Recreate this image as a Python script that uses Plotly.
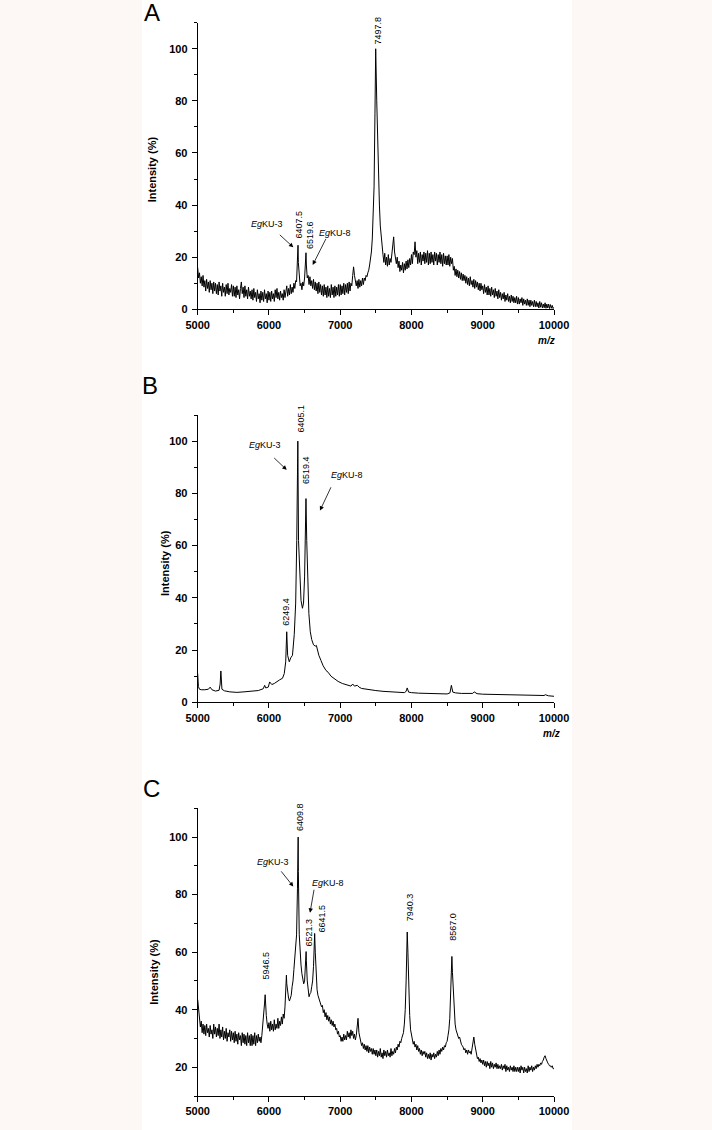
import plotly.graph_objects as go

# ---------------- data ----------------
MZ_STEP = 12.5
grid_mz = [5000 + MZ_STEP * i for i in range(401)]

# Panel A intensities on the 12.5-m/z grid (5000 ... 10000), 20 values per row
a_grid_int = [
    16, 12, 14, 10, 12.5, 9, 13, 8.5, 11, 7, 11.5, 8, 10.5, 6.5, 11, 7.5, 10, 6, 10.5, 7,
    10, 6, 9.5, 5.5, 10.5, 7, 9, 5, 10, 6.5, 8.5, 5, 9.5, 6, 10, 5.5, 8, 6.5, 9.5, 5,
    9, 5, 8.5, 4.5, 9, 5.5, 7.5, 4, 8, 10.5, 6, 8.5, 4.5, 9, 5, 7.5, 4, 8.5, 5, 7,
    4, 7.5, 3.5, 8, 4.5, 6.5, 3, 7.5, 4, 6, 2.5, 7, 3.5, 6.5, 3, 7.5, 4, 6, 2.5, 7,
    3.5, 6.5, 3, 7, 4, 6, 3, 7.5, 4.5, 8, 4, 6.5, 3.5, 7, 4.5, 6, 3.5, 7.5, 4.5, 7,
    9, 5, 8, 5.5, 9.5, 6, 8.5, 6.5, 10, 8, 11, 10.5, 17, 18, 11, 9, 10, 7.5, 10.5, 9,
    12, 18, 17, 12, 13, 9.5, 12.5, 9, 11, 8, 11.5, 7.5, 10.5, 7, 10, 6, 10.5, 6.5, 9.5, 5.5,
    9, 5, 9.5, 5.5, 8.5, 4.5, 9, 5, 8, 4.5, 9.5, 5.5, 8.5, 4.5, 9, 5, 8.5, 5.5, 9.5, 5,
    9.5, 5.5, 9, 6, 10, 5.5, 9.5, 6.5, 10, 6, 10.5, 7, 10, 9, 13, 16.3, 13, 11, 9, 11,
    8, 11.5, 8.5, 11, 9, 12, 9.5, 12, 11, 13, 12.5, 14, 15, 17, 19, 22, 27, 36, 47, 75,
    97, 80, 62, 50, 40, 32, 27, 23, 21, 18, 21.5, 17, 20, 16.5, 21, 17, 19.5, 18, 21, 25,
    27.8, 22, 19, 17.5, 20, 16, 18.5, 14.5, 17, 15, 18, 14, 17.5, 15, 18.5, 15.5, 19, 16, 19.5, 17,
    21, 17.5, 22, 21, 25.9, 20, 22.5, 17.5, 21.5, 18, 22, 17, 21, 18.5, 22, 17.5, 21.5, 18, 22.5, 17,
    21.5, 17.5, 22, 18, 21, 17, 22, 18.5, 21.5, 17, 21, 18, 22, 17.5, 21, 16.5, 21.5, 17.5, 20.5, 17,
    20.5, 17, 21, 16.5, 20, 17.5, 19.5, 15, 16.5, 13, 15.5, 12.5, 15, 12, 14.5, 11.5, 14, 11, 13.5, 11,
    13, 10, 12.5, 9.5, 12, 9, 12.5, 9.5, 11, 8.5, 11.5, 8, 11, 8.5, 10.5, 7.5, 10, 7, 10, 7.5,
    9, 6, 9.5, 6.5, 8.5, 5.5, 9, 5.5, 8, 5, 8.5, 5.5, 7.5, 4.5, 8, 5, 7, 4, 7.5, 4.5,
    6.5, 3.5, 6, 4, 6.5, 3, 5.5, 3.5, 6, 3, 5, 2.5, 5.5, 3, 5, 2.5, 4.5, 2.5, 5, 2,
    4.5, 2, 4, 2.5, 4.5, 1.5, 4, 2, 3.5, 1.5, 4, 1.5, 3.5, 1, 3.5, 1.5, 3, 1, 3.5, 1,
    3, 1, 2.5, 0.5, 3, 0.8, 2.5, 0.5, 2, 0.6, 2.5, 0.4, 2, 0.5, 2, 0.3, 1.8, 0.4, 1.5, 0.3,
    0.8,
]
a_peak_mz = [6407.5, 6519.6, 7497.8]
a_peak_int = [24.6, 21.7, 100]

# Panel B (smooth spectrum)
b_mz = [5000, 5010, 5025, 5050, 5100, 5150, 5175, 5200, 5250, 5300, 5315, 5325,
        5340, 5375, 5450, 5550, 5650, 5750, 5850, 5920, 5940, 5955, 5990, 6010,
        6025, 6040, 6075, 6110, 6150, 6190, 6215, 6235, 6249.4, 6262, 6285, 6305,
        6330, 6355, 6375, 6390, 6405.1, 6415, 6430, 6450, 6470, 6485, 6500, 6510,
        6519.4, 6530, 6545, 6560, 6580, 6600, 6625, 6650, 6665, 6680, 6700, 6730,
        6760, 6800, 6830, 6870, 6920, 6970, 7030, 7090, 7150, 7175, 7200, 7240,
        7265, 7300, 7400, 7500, 7600, 7700, 7800, 7900, 7925, 7940, 7960, 8000,
        8100, 8200, 8300, 8400, 8500, 8540, 8560, 8580, 8620, 8700, 8800, 8860,
        8880, 8920, 9000, 9200, 9400, 9600, 9800, 9860, 9880, 9920, 10000]
b_int = [11, 6, 5, 4.8, 4.8, 5, 5.8, 4.8, 4.3, 4.6, 7, 12,
         5, 4.4, 4.0, 3.8, 4.0, 4.2, 4.5, 5.2, 6.5, 5.5, 5.8, 7.8,
         7, 6.8, 7.2, 8, 8.6, 9.2, 11, 15.5, 27, 18, 15.5, 17,
         18, 26, 38, 62, 100, 62, 48, 39, 36, 38, 48, 62,
         78, 62, 45, 34, 27, 24, 22, 21.5, 21.8, 19.5, 18, 16,
         14, 12.2, 11.5, 10, 9, 8, 7.2, 6.6, 6.2, 7, 6.2, 6.5,
         5.8, 5.3, 4.8, 4.5, 4.2, 4.0, 3.8, 3.7, 4.2, 5.5, 3.9, 3.7,
         3.5, 3.4, 3.3, 3.3, 3.2, 3.6, 6.5, 3.9, 3.6, 3.4, 3.3, 3.4,
         4, 3.3, 3.1, 3.0, 2.9, 2.8, 2.6, 2.6, 2.9, 2.5, 2.3]

# Panel C intensities on the 12.5-m/z grid, 20 values per row
c_grid_int = [
    43.5, 40, 37, 34, 36, 32, 35, 31.5, 34.5, 31, 35, 32, 33.5, 30.5, 34.5, 31.5, 33, 30, 35, 31.5,
    34, 30.5, 33.5, 31, 35, 30, 33, 30.5, 34, 29.5, 32.5, 30, 33.5, 29, 32, 30.5, 33, 29, 32.5, 29.5,
    32, 28.5, 32.5, 29, 31.5, 28, 32, 29.5, 31, 27.5, 32, 28.5, 31.5, 28, 31, 27.5, 32, 28.5, 31, 27.5,
    31.5, 27.5, 31, 28, 32, 27.5, 31, 28.5, 31.5, 29, 30.5, 28.5, 31, 34, 38, 42, 41, 38, 35, 33.5,
    35.5, 32.5, 36, 33, 35, 32.5, 36.5, 33, 35, 33.5, 37, 33.5, 36, 34.5, 37.5, 35, 38.5, 37, 41, 47,
    49, 46, 44, 43, 44.5, 45, 48, 50, 54, 58, 60, 66, 82, 88, 66, 58, 55.5, 52.5, 51, 49,
    50, 56, 57, 50, 46, 44.5, 45.5, 46, 48, 50, 55, 62, 60, 52, 47, 45, 44, 43, 42.5, 41,
    41.5, 39, 40, 37.5, 39, 36.5, 38, 36, 37.5, 35, 36.5, 34.5, 36, 34, 35, 33, 33.5, 31.5, 32.5, 30.5,
    31, 29, 30.5, 29, 31.5, 29.5, 31, 29.5, 32.5, 30.5, 32, 30, 33, 31, 32.5, 30, 31.5, 29.5, 31, 34,
    37, 32, 30, 28.5, 27.5, 28.5, 26.5, 28, 26, 27.5, 25.5, 27.5, 25, 27, 25.5, 26.5, 24.5, 26.5, 24.5, 26,
    24, 26, 23.5, 25.5, 24, 26.5, 23.5, 25, 23, 26, 24, 25.5, 23.5, 26, 24, 25, 23.5, 26.5, 24, 25.5,
    24.5, 26.5, 25, 27, 26, 28, 27, 29, 28.5, 30, 31, 32, 35, 40, 50, 63, 60, 47, 38, 33,
    31, 29.5, 28, 29, 27, 28, 26, 27.5, 25.5, 26.5, 24.5, 26, 24, 25.5, 24.5, 25.5, 23.5, 25, 23, 24.5,
    23, 25, 22.5, 24.5, 23.5, 25, 23, 24.5, 23.5, 25.5, 24, 26, 24.5, 26.5, 25.5, 27, 26, 27.5, 27, 28.5,
    29, 31, 33, 37, 44, 53, 53, 45, 39, 35, 33, 32, 31, 30, 30.5, 29, 28, 27.5, 27, 26,
    26.5, 25, 26, 24.5, 26, 25, 25.5, 24.5, 27, 29, 30.5, 28, 26, 24.5, 23, 23.5, 22, 23, 21.5, 22.5,
    21, 22.5, 20.5, 22, 20, 22, 20.5, 21.5, 19.5, 22, 20, 21.5, 19.5, 21, 20, 21.5, 19.5, 21, 19.5, 20.5,
    19.5, 21, 19, 20.5, 19.5, 21, 18.5, 20.5, 19, 20, 18.5, 20.5, 19, 20, 18.5, 20.5, 18.5, 20, 18.5, 20,
    18.5, 20, 18, 20.5, 19, 20, 18, 20, 18.5, 19.5, 18, 20.5, 18.5, 20, 19, 20.5, 18.5, 20, 19, 20.5,
    19.5, 21, 20, 21, 20.5, 21.5, 21, 22, 22.5, 23.5, 24, 23, 22, 21.5, 21, 20.5, 20.5, 20, 20.5, 19.5,
    19.5,
]
c_peak_mz = [5946.5, 6245, 6409.8, 6521.3, 6641.5, 7940.3, 8567.0]
c_peak_int = [45.2, 52, 100, 60.2, 66.5, 67, 58.5]

x_tick_vals = [5000, 6000, 7000, 8000, 9000, 10000]
x_tick_text = ["5000", "6000", "7000", "8000", "9000", "10000"]
y_tick_vals = [0, 20, 40, 60, 80, 100]

# peak labels: (panel, label, x, bottom-y)
peak_labels = [
    (1, "7497.8", 7534, 101),
    (1, "6407.5", 6426, 26.5),
    (1, "6519.6", 6566, 22.5),
    (2, "6405.1", 6445, 102.4),
    (2, "6519.4", 6520, 82.8),
    (2, "6249.4", 6235, 28.4),
    (3, "6409.8", 6436, 101.4),
    (3, "6521.3", 6562, 61.3),
    (3, "6641.5", 6740, 66),
    (3, "5946.5", 5954, 49.7),
    (3, "7940.3", 7979, 70),
    (3, "8567.0", 8590, 63.1),
]
# name labels: (panel, name, text x, text y, arrow tail x, tail y, tip x, tip y)
name_labels = [
    (1, "KU-3", 5968, 32.7, 6131, 29.1, 6342, 23.8),
    (1, "KU-8", 6927, 29.1, 6810, 27.6, 6614, 17.0),
    (2, "KU-3", 5944, 98.6, 6052, 94.1, 6249, 89.0),
    (2, "KU-8", 7091, 87.0, 6880, 82.9, 6716, 73.4),
    (3, "KU-3", 6061, 91.5, 6155, 88.6, 6342, 82.8),
    (3, "KU-8", 6833, 84.0, 6636, 82.2, 6576, 73.7),
]


def merged(gx, gy, px, py):
    pts = sorted(zip(list(gx) + list(px), list(gy) + list(py)))
    return [p[0] for p in pts], [p[1] for p in pts]


a_x, a_y = merged(grid_mz, a_grid_int, a_peak_mz, a_peak_int)
c_x, c_y = merged(grid_mz, c_grid_int, c_peak_mz, c_peak_int)

# ---------------- figure ----------------
W, H = 712, 1130
FONT = "Arial, Liberation Sans, sans-serif"
PAGE_BG = "#FDF7F6"

fig = go.Figure()
line = dict(color="black", width=1)
fig.add_trace(go.Scatter(x=a_x, y=a_y, mode="lines", line=line, xaxis="x", yaxis="y", showlegend=False))
fig.add_trace(go.Scatter(x=b_mz, y=b_int, mode="lines", line=line, xaxis="x2", yaxis="y2", showlegend=False))
fig.add_trace(go.Scatter(x=c_x, y=c_y, mode="lines", line=line, xaxis="x3", yaxis="y3", showlegend=False))


def px_y(p):
    return 1 - p / H


def px_x(p):
    return p / W


xdom = [px_x(197.7), px_x(554)]
ydoms = {1: [px_y(309.3), px_y(22.7)], 2: [px_y(702.3), px_y(415)], 3: [px_y(1096), px_y(808.3)]}
yranges = {1: [0, 110], 2: [0, 110], 3: [10, 110]}

tickfont = dict(family=FONT, size=11, color="black", weight="bold")
layout = {}
for i in (1, 2, 3):
    sx = "" if i == 1 else str(i)
    layout["xaxis" + sx] = dict(
        domain=xdom, anchor="y" + sx, range=[5000, 10000], automargin=False,
        showline=True, linecolor="black", linewidth=1, showgrid=False, zeroline=False,
        ticks="outside", ticklen=5, tickwidth=1, tickcolor="black",
        tickvals=x_tick_vals, ticktext=x_tick_text, tickfont=tickfont,
        minor=dict(ticks="outside", ticklen=3, tickwidth=1, tickcolor="black", dtick=500, tick0=5000, showgrid=False),
        fixedrange=True,
    )
    yv = [v for v in y_tick_vals if v >= yranges[i][0]]
    layout["yaxis" + sx] = dict(
        domain=ydoms[i], anchor="x" + sx, range=yranges[i], automargin=False,
        showline=True, linecolor="black", linewidth=1, showgrid=False, zeroline=False,
        ticks="outside", ticklen=5, tickwidth=1, tickcolor="black",
        tickvals=yv, tickfont=tickfont, ticklabelstandoff=2,
        minor=dict(ticks="outside", ticklen=3, tickwidth=1, tickcolor="black", dtick=10, tick0=0, showgrid=False),
        fixedrange=True,
    )

annotations = []
for panel, txt, x, y in peak_labels:
    sx = "" if panel == 1 else str(panel)
    annotations.append(dict(
        xref="x" + sx, yref="y" + sx, x=x, y=y, text=txt, showarrow=False,
        textangle=-90, xanchor="center", yanchor="bottom",
        font=dict(family=FONT, size=9, color="black"),
    ))
for panel, name, tx, ty, ax, ay, hx, hy in name_labels:
    sx = "" if panel == 1 else str(panel)
    annotations.append(dict(
        xref="x" + sx, yref="y" + sx, x=tx, y=ty, text="<i>Eg</i>" + name, showarrow=False,
        xanchor="center", yanchor="middle", font=dict(family=FONT, size=9, color="black"),
    ))
    annotations.append(dict(
        xref="x" + sx, yref="y" + sx, x=hx, y=hy, ax=ax, ay=ay, axref="x" + sx, ayref="y" + sx,
        text="", showarrow=True, arrowhead=2, arrowsize=1.1, arrowwidth=0.8, arrowcolor="black",
        standoff=0, startstandoff=0,
    ))

# panel letters
for letter, cx, cy in (("A", 152, 13), ("B", 150, 386), ("C", 151.5, 788)):
    annotations.append(dict(
        xref="paper", yref="paper", x=px_x(cx), y=px_y(cy), text=letter, showarrow=False,
        xanchor="center", yanchor="middle", font=dict(family=FONT, size=24, color="black"),
    ))
# y titles
for cx, cy in ((152.3, 169), (165, 563), (154, 971.7)):
    annotations.append(dict(
        xref="paper", yref="paper", x=px_x(cx), y=px_y(cy), text="Intensity (%)", showarrow=False,
        textangle=-90, xanchor="center", yanchor="middle",
        font=dict(family=FONT, size=11, color="black", weight="bold"),
    ))
# m/z labels
for cx, cy in ((546, 340), (551, 733)):
    annotations.append(dict(
        xref="paper", yref="paper", x=px_x(cx), y=px_y(cy), text="<i>m/z</i>", showarrow=False,
        xanchor="center", yanchor="middle", font=dict(family=FONT, size=10, color="black", weight="bold"),
    ))

fig.update_layout(
    width=W, height=H, autosize=False,
    margin=dict(l=0, r=0, t=0, b=0, pad=0),
    paper_bgcolor=PAGE_BG, plot_bgcolor="white",
    annotations=annotations,
    shapes=[dict(type="rect", xref="paper", yref="paper", x0=px_x(142), x1=px_x(572), y0=0, y1=1,
                 fillcolor="white", line=dict(width=0), layer="below")],
    **layout,
)

page_js = (
    "document.body.style.margin='0';"
    "document.body.style.padding='0';"
    "document.documentElement.style.overflow='hidden';"
    "document.body.style.overflow='hidden';"
    "document.body.style.background='" + PAGE_BG + "';"
)
fig.write_html("out.html", config={"displayModeBar": False}, post_script=page_js)
